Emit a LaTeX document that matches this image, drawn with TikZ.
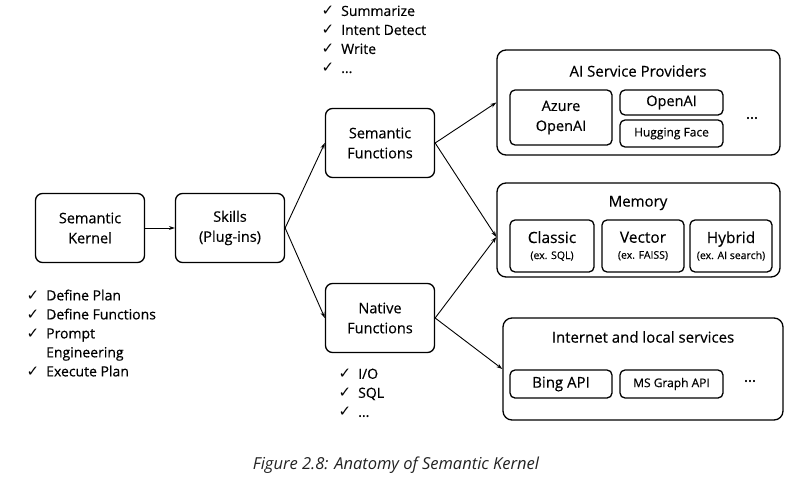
\documentclass[tikz,border=0pt]{standalone}
\usepackage{fontspec}
\setmainfont{Open Sans}[UprightFeatures={FakeBold=0.35}]
\newfontfamily\symfont{DejaVu Sans}
\usepackage{xcolor}
\definecolor{drawcolor}{HTML}{000000}
\definecolor{captioncolor}{HTML}{222222}
\usetikzlibrary{arrows.meta,positioning}
\newcommand{\chk}{{\symfont\fontsize{15}{19}\selectfont\char"2713}\hspace{7pt}}

\begin{document}
\begin{tikzpicture}[
  x=1pt, y=-1pt,
  line width=1.3pt,
  drawcolor,
  box/.style={draw, rounded corners=7pt, align=center, inner sep=0pt, font=\fontsize{14.5}{20}\selectfont},
  mainbox/.style={box, minimum width=109pt, minimum height=69pt},
  groupbox/.style={draw, rounded corners=9pt, minimum width=283pt, inner sep=0pt},
  itembox/.style={box, rounded corners=5pt},
  title/.style={font=\fontsize{15}{18}\selectfont},
  checklist/.style={anchor=north west, align=left, inner sep=0pt, font=\fontsize{14}{19}\selectfont},
  link/.style={-{Stealth[length=6pt,width=4pt]}, line width=0.9pt},
]

  \useasboundingbox (0,0) rectangle (793,477);

  \node[mainbox] (kernel) at (90,228) {Semantic\\Kernel};
  \node[mainbox] (skills) at (230,228) {Skills\\(Plug-ins)};
  \node[mainbox] (semfn) at (380,143) {Semantic\\Functions};
  \node[mainbox] (natfn) at (380,318) {Native\\Functions};

  % groups on the right
  \node[groupbox, minimum height=105pt] (providers) at (638.5,102.5) {};
  \node[groupbox, minimum height=94pt] (memory) at (638.5,230) {};
  \node[groupbox, minimum width=280pt, minimum height=102pt] (services) at (643,369) {};

  \node[title] (providers-title) at (638,71) {AI Service Providers};
  \node[title] (memory-title) at (638,203) {Memory};
  \node[title] (services-title) at (643,337) {Internet and local services};

  \node[itembox, minimum width=102pt, minimum height=55pt] (azure) at (561,117.5) {Azure\\OpenAI};
  \node[itembox, minimum width=103pt, minimum height=25pt] (openai) at (671.5,102.5) {OpenAI};
  \node[itembox, minimum width=103pt, minimum height=27pt, font=\fontsize{12}{14}\selectfont] (hugging) at (671.5,133.5) {Hugging Face};
  \node[title] (providers-more) at (752,118) {...};

  \foreach \name/\cx/\w/\main/\sub in {classic/552/84/Classic/ex. SQL, vector/643/82/Vector/ex. FAISS, hybrid/731/82/Hybrid/ex. AI search}
    \node[itembox, minimum width=\w pt, minimum height=52pt, font=\fontsize{15.5}{18}\selectfont] (\name) at (\cx,246)
      {\main\\[-2pt]{\fontsize{10.5}{12}\selectfont(\sub)}};

  \node[itembox, minimum width=102pt, minimum height=28pt, font=\fontsize{15}{18}\selectfont] (bing) at (561,384) {Bing API};
  \node[itembox, minimum width=103pt, minimum height=28pt, font=\fontsize{12}{14}\selectfont] (graph) at (671.5,384) {MS Graph API};
  \node[title] (services-more) at (750,381) {...};

  \draw[link] (kernel) -- (skills);
  \draw[link] (skills.east) -- (semfn.west);
  \draw[link] (skills.east) -- (natfn.west);
  \draw[link] (semfn.east) -- (providers.west);
  \draw[link] (semfn.east) -- ([yshift=-7pt]memory.west);
  \draw[link] (natfn.east) -- ([yshift=-7pt]memory.west);
  \draw[link] (natfn.east) -- (services.west);

  \node[checklist] (semfn-list) at (321,5) {\chk Summarize\\ \chk Intent Detect\\ \chk Write\\ \chk ...};
  \node[checklist] (kernel-list) at (26,289) {\chk Define Plan\\ \chk Define Functions\\ \chk Prompt\\ \phantom{\chk}Engineering\\ \chk Execute Plan};
  \node[checklist] (natfn-list) at (338,368) {\chk I/O\\ \chk SQL\\ \chk ...};

  \node[font=\fontsize{16.5}{18}\selectfont\itshape, text=captioncolor] (caption) at (396,465) {Figure 2.8: Anatomy of Semantic Kernel};
\end{tikzpicture}
\end{document}
